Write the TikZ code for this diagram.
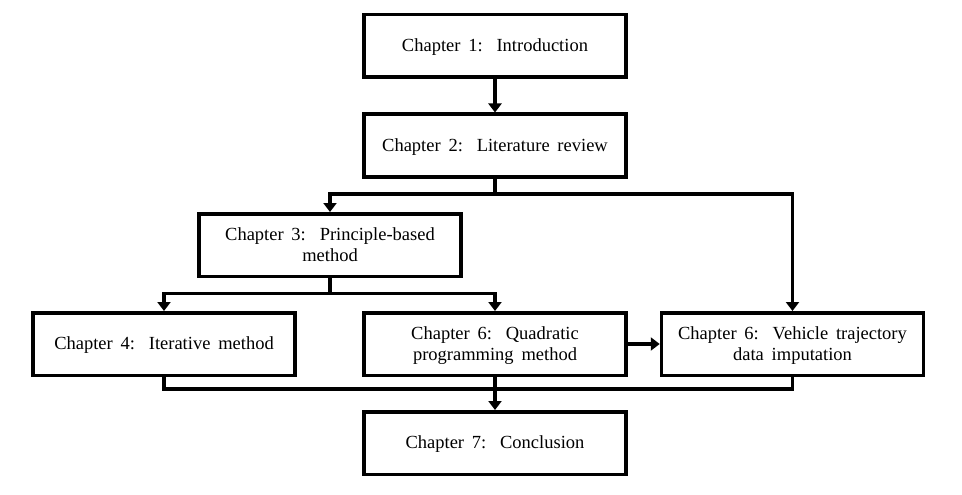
\documentclass[tikz,border=0pt]{standalone}
\usepackage{fontspec}
\setmainfont{Liberation Serif}
\usetikzlibrary{arrows.meta}
\newcommand{\chapfont}{\fontsize{18.5pt}{21pt}\selectfont}
\newcommand{\chapspace}{\spaceskip=0.42em plus 0.1em\relax\xspaceskip=0.75em\relax}
\tikzset{
  chap/.style={draw, line width=3.5pt, minimum width=262pt, minimum height=62.5pt,
    align=center, inner sep=2pt, font=\chapfont, text depth=1pt},
  conn/.style={line width=3.3pt},
  arr/.style={line width=3.3pt, -{Triangle[length=9pt,width=13pt]}}
}
\begin{document}
\begin{tikzpicture}[x=1pt,y=-1pt]
\useasboundingbox (0,0) rectangle (962,495);
\node[chap] (c1) at (495,46) {\chapspace Chapter 1: Introduction};
\node[chap] (c2) at (495,145.5) {\chapspace Chapter 2: Literature review};
\node[chap] (c3) at (330,245) {\chapspace Chapter 3: Principle-based\\method};
\node[chap] (c4) at (164,344) {\chapspace Chapter 4: Iterative method};
\node[chap] (c6a) at (495,344) {\chapspace Chapter 6: Quadratic\\\chapspace programming method};
\node[chap] (c6b) at (792.5,344) {\chapspace Chapter 6: Vehicle trajectory\\\chapspace data imputation};
\node[chap] (c7) at (495,443) {\chapspace Chapter 7: Conclusion};
\coordinate (j2) at (495,194);
\coordinate (j3) at (330,293.5);
\coordinate (j7) at (495,389);
\draw[arr] (c1) -- (c2);
\draw[conn] (c2.south) -- (j2);
\draw[arr] (j2) -| (c3.north);
\draw[arr] (j2) -| (c6b.north);
\draw[conn] (c3.south) -- (j3);
\draw[arr] (j3) -| (c4.north);
\draw[arr] (j3) -| (c6a.north);
\draw[arr] (c6a) -- (c6b);
\draw[conn] (c4.south) |- (j7);
\draw[conn] (c6b.south) |- (j7);
\draw[conn] (c6a.south) -- (j7);
\draw[arr] (j7) -- (c7.north);
\end{tikzpicture}
\end{document}
